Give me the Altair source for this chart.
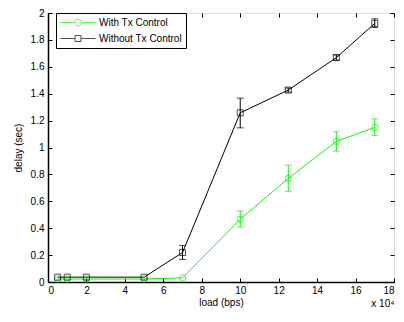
import altair as alt
import pandas as pd

# ---- data (load in units of 10^4 bps, delay in sec)
series_names = ["With Tx Control", "Without Tx Control"]
series_colors = ["#00ff00", "#000000"]
loads = [0.5, 1, 2, 5, 7, 10, 12.5, 15, 17]
with_tx = [0.022, 0.022, 0.022, 0.022, 0.031, 0.467, 0.770, 1.045, 1.150]
without_tx = [0.036, 0.036, 0.036, 0.036, 0.219, 1.258, 1.427, 1.668, 1.923]

err_loads_with = [10, 12.5, 15, 17]
with_lo = [0.409, 0.674, 0.973, 1.090]
with_hi = [0.527, 0.869, 1.117, 1.213]
err_loads_without = [7, 10, 12.5, 15, 17]
without_lo = [0.168, 1.146, 1.412, 1.650, 1.892]
without_hi = [0.272, 1.367, 1.442, 1.688, 1.957]

x_ticks = [0, 2, 4, 6, 8, 10, 12, 14, 16, 18]
y_ticks = [0, 0.2, 0.4, 0.6, 0.8, 1, 1.2, 1.4, 1.6, 1.8, 2]

# ---- tables
main = pd.DataFrame({
    "load": loads + loads,
    "delay": with_tx + without_tx,
    "series": [series_names[0]] * len(loads) + [series_names[1]] * len(loads),
})
errs = pd.DataFrame({
    "load": err_loads_with + err_loads_without,
    "lo": with_lo + without_lo,
    "hi": with_hi + without_hi,
    "series": [series_names[0]] * len(err_loads_with) + [series_names[1]] * len(err_loads_without),
})
legend_df = pd.DataFrame({"load": [-5, -5], "delay": [1, 1], "series": series_names})

FONT = "Liberation Sans"
PW, PH = 346, 269
xscale = alt.Scale(domain=[0, 18], nice=False, zero=False)
yscale = alt.Scale(domain=[0, 2], nice=False, zero=False)
cscale = alt.Scale(domain=series_names, range=series_colors)

circle_path = "M-1,0L-0.19,0M0.19,0L1,0M0.19,0A0.19,0.19,0,1,1,-0.19,0A0.19,0.19,0,1,1,0.19,0"
square_path = "M-1,0L-0.17,0M0.17,0L1,0M-0.17,-0.17L0.17,-0.17L0.17,0.17L-0.17,0.17Z"

legend_props = dict(title=None, orient="none", legendX=8, legendY=0, fillColor="white",
                    strokeColor="black", padding=4, symbolSize=1225, symbolStrokeWidth=1,
                    symbolFillColor="transparent",
                    labelFont=FONT, labelFontSize=10, labelColor="#000000", clipHeight=11,
                    rowPadding=5, labelOffset=3)
LEG = alt.Legend(**legend_props)

axis_common = dict(grid=False, labelFont=FONT, titleFont=FONT, labelFontSize=10,
                   titleFontSize=10, titleFontWeight="normal", labelColor="#000000",
                   titleColor="#000000", domainColor="#000000")

x_main_axis = alt.Axis(values=x_ticks, tickSize=0, labelPadding=3, domainWidth=1.5,
                       title="load (bps)", titleBaseline="top", titleY=15, **axis_common)
y_main_axis = alt.Axis(values=y_ticks, format="~g", tickSize=0, labelPadding=4, domainWidth=1.5,
                       title="delay (sec)", titleX=-25, **axis_common)


def tick_axis(orient, values, title=None, **kw):
    return alt.Axis(orient=orient, values=values, labels=False, domain=False, ticks=True,
                    tickSize=4, offset=-4, tickColor="#000000", tickWidth=1, grid=False,
                    title=title, **kw)


x_bottom_ticks = tick_axis("bottom", x_ticks, title="x 10⁴", titleX=PW, titleY=20,
                           titleAlign="right", titleBaseline="top", titleFont=FONT,
                           titleFontSize=10, titleFontWeight="normal", titleColor="#000000")
y_left_ticks = tick_axis("left", y_ticks)
x_top_ticks = tick_axis("top", x_ticks)
y_right_ticks = tick_axis("right", y_ticks)

color_enc = alt.Color("series:N", scale=cscale, legend=LEG)

legend_layer = alt.Chart(legend_df).mark_point(filled=False, clip=True, strokeWidth=1).encode(
    x=alt.X("load:Q", scale=xscale, axis=None),
    y=alt.Y("delay:Q", scale=yscale, axis=None),
    color=color_enc,
    shape=alt.Shape("series:N", scale=alt.Scale(domain=series_names, range=[circle_path, square_path]),
                    legend=LEG),
)

lines = alt.Chart(main).mark_line(strokeWidth=1).encode(
    x=alt.X("load:Q", scale=xscale, axis=x_main_axis),
    y=alt.Y("delay:Q", scale=yscale, axis=y_main_axis),
    color=color_enc,
)


def errorbar_layer(i):
    return alt.Chart(errs).transform_filter(
        alt.datum.series == series_names[i]
    ).mark_errorbar(ticks={"size": 7, "color": series_colors[i]}, thickness=1,
                    color=series_colors[i]).encode(
        x=alt.X("load:Q", scale=xscale, axis=None),
        y=alt.Y("lo:Q", scale=yscale, axis=None),
        y2="hi:Q",
    )


circles = alt.Chart(main).transform_filter(
    alt.datum.series == series_names[0]
).mark_point(shape="circle", filled=False, size=40, strokeWidth=1).encode(
    x=alt.X("load:Q", scale=xscale, axis=x_bottom_ticks),
    y=alt.Y("delay:Q", scale=yscale, axis=y_left_ticks),
    color=color_enc,
)

squares = alt.Chart(main).transform_filter(
    alt.datum.series == series_names[1]
).mark_point(shape="square", filled=False, size=36, strokeWidth=1).encode(
    x=alt.X("load:Q", scale=xscale, axis=x_top_ticks),
    y=alt.Y("delay:Q", scale=yscale, axis=y_right_ticks),
    color=color_enc,
)

chart = alt.layer(legend_layer, lines, errorbar_layer(0), errorbar_layer(1),
                  circles, squares).resolve_axis(
    x="independent", y="independent"
).properties(
    width=PW, height=PH,
    autosize=alt.AutoSizeParams(type="none"),
    padding={"left": 40, "top": 5, "right": 2, "bottom": 27},
).configure_view(
    stroke="#000000", strokeWidth=1
).configure(background="white")

chart.save("out.html", embed_options={"renderer": "svg", "actions": False})
